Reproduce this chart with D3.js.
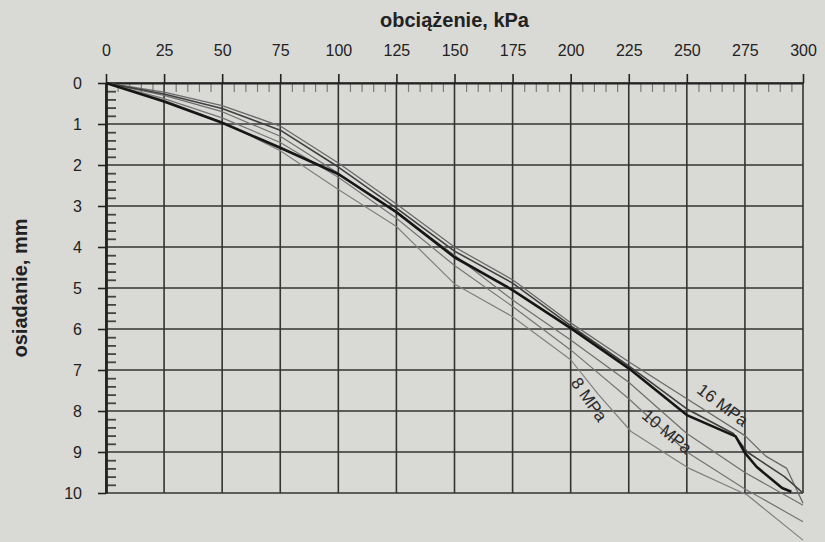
<!DOCTYPE html>
<html>
<head>
<meta charset="utf-8">
<script src="https://cdn.jsdelivr.net/npm/d3@7"></script>
<style>
  body { margin: 0; background: #d9d9d6; }
  svg { display: block; font-family: "Liberation Sans", Arial, sans-serif; }
  .tick text { font-size: 16px; fill: #222; }
</style>
</head>
<body>
<svg id="chart" width="825" height="542"></svg>
<script>
// load (kPa) on top, settlement (mm) downwards
var xTicks = [0, 25, 50, 75, 100, 125, 150, 175, 200, 225, 250, 275, 300];
var yTicks = [0, 1, 2, 3, 4, 5, 6, 7, 8, 9, 10];

// each point: [load kPa, settlement mm]
var pomiar = [[0,0],[25,0.45],[50,0.97],[75,1.58],[100,2.22],[125,3.15],[150,4.25],[175,5.05],
  [200,5.98],[225,6.96],[250,8.1],[271,8.62],[275,9.02],[280,9.36],[291,9.88],[295,9.97]];
var upperA = [[0,0],[25,0.27],[50,0.62],[75,1.15],[100,2.05],[125,3.05],[150,4.1],[175,4.88],
  [200,5.92],[225,6.9],[250,7.95],[270,8.55],[276,9.0],[284,9.3],[292,9.6],[300,10.0]];
var mpa16 = [[0,0],[25,0.22],[50,0.55],[75,1.05],[100,1.95],[125,2.95],[150,4.0],[175,4.8],
  [200,5.85],[225,6.8],[250,7.7],[275,8.6],[284,9.1],[293,9.4],[300,10.25]];
var lowerA = [[0,0],[25,0.3],[50,0.7],[75,1.3],[100,2.2],[125,3.15],[150,4.2],[175,5.29],
  [200,6.27],[225,7.3],[250,8.55],[275,9.5],[300,10.3]];
var mpa10 = [[0,0],[25,0.38],[50,0.85],[75,1.45],[100,2.3],[125,3.3],[150,4.45],[175,5.45],
  [200,6.51],[225,7.7],[250,9.0],[275,9.9],[300,10.7]];
var mpa8 = [[0,0],[25,0.42],[50,0.95],[75,1.65],[100,2.6],[125,3.5],[150,4.9],[175,5.7],
  [200,6.75],[212,7.6],[226,8.5],[251,9.4],[276,10.05],[300,11.15]];

var curveLabels = ["8 MPa", "10 MPa", "16 MPa"];
var labelAt = [[208, 7.72], [241.5, 8.5], [265.5, 7.85]];
var labelAngle = [55, 40, 37];

var svg = d3.select("#chart");
var x = d3.scaleLinear().domain([0, 300]).range([106, 803]);
var y = d3.scaleLinear().domain([0, 10]).range([83, 493]);

// grid
svg.append("g").selectAll("line").data(xTicks).enter().append("line")
  .attr("x1", function(d){ return x(d); }).attr("x2", function(d){ return x(d); })
  .attr("y1", y(0)).attr("y2", y(10))
  .attr("stroke", "#333").attr("stroke-width", 1.6);
svg.append("g").selectAll("line").data(yTicks).enter().append("line")
  .attr("y1", function(d){ return y(d); }).attr("y2", function(d){ return y(d); })
  .attr("x1", x(0)).attr("x2", x(300))
  .attr("stroke", "#333").attr("stroke-width", 1.6);

// minor ticks inside the frame
var xMinor = d3.range(0, 300, 5).filter(function(d){ return d % 25 !== 0; });
var yMinor = d3.range(0, 50).map(function(i){ return i / 5; })
  .filter(function(d){ return Math.round(d * 5) % 5 !== 0; });
var topMinor = svg.append("g").attr("transform", "translate(0," + y(0) + ")")
  .call(d3.axisBottom(x).tickValues(xMinor).tickSize(9).tickFormat(""));
topMinor.select(".domain").remove();
topMinor.selectAll("line").attr("stroke", "#7a7a7a").attr("stroke-width", 1.2);
var leftMinor = svg.append("g").attr("transform", "translate(" + x(0) + ",0)")
  .call(d3.axisRight(y).tickValues(yMinor).tickSize(10).tickFormat(""));
leftMinor.select(".domain").remove();
leftMinor.selectAll("line").attr("stroke", "#444").attr("stroke-width", 1.8);

// main axes
var topAxis = svg.append("g").attr("transform", "translate(0," + y(0) + ")")
  .call(d3.axisTop(x).tickValues(xTicks).tickSize(9).tickPadding(18).tickSizeOuter(0));
topAxis.select(".domain").attr("stroke", "#222").attr("stroke-width", 2.2);
topAxis.selectAll(".tick line").attr("stroke", "#222").attr("stroke-width", 1.6);
var leftAxis = svg.append("g").attr("transform", "translate(" + x(0) + ",0)")
  .call(d3.axisLeft(y).tickValues(yTicks).tickSize(8).tickPadding(16).tickSizeOuter(0));
leftAxis.select(".domain").attr("stroke", "#222").attr("stroke-width", 2.8);
leftAxis.selectAll(".tick line").attr("stroke", "#222").attr("stroke-width", 1.6);
svg.selectAll(".tick text").attr("font-family", null).attr("font-size", null);

// curves, lightest first
var line = d3.line().x(function(d){ return x(d[0]); }).y(function(d){ return y(d[1]); });
var series = [
  {d: mpa8,   c: "#808080", w: 1.2},
  {d: mpa10,  c: "#747474", w: 1.2},
  {d: lowerA, c: "#6e6e6e", w: 1.2},
  {d: mpa16,  c: "#6a6a6a", w: 1.3},
  {d: upperA, c: "#404040", w: 1.6},
  {d: pomiar, c: "#161616", w: 2.6}
];
svg.append("g").selectAll("path").data(series).enter().append("path")
  .attr("d", function(s){ return line(s.d); })
  .attr("fill", "none")
  .attr("stroke", function(s){ return s.c; })
  .attr("stroke-width", function(s){ return s.w; })
  .attr("stroke-linejoin", "round");

svg.append("g").selectAll("text").data(curveLabels).enter().append("text")
  .attr("transform", function(d, i){
    return "translate(" + x(labelAt[i][0]) + "," + y(labelAt[i][1]) + ") rotate(" + labelAngle[i] + ")";
  })
  .attr("text-anchor", "middle").attr("dy", "0.35em")
  .attr("font-size", 17).attr("fill", "#2a2a2a")
  .text(function(d){ return d; });

// axis titles
svg.append("text")
  .attr("x", (x(0) + x(300)) / 2).attr("y", 27)
  .attr("text-anchor", "middle")
  .attr("font-size", 20).attr("font-weight", "bold").attr("fill", "#222")
  .text("obciążenie, kPa");
svg.append("text")
  .attr("transform", "translate(27," + (y(0) + y(10)) / 2 + ") rotate(-90)")
  .attr("text-anchor", "middle")
  .attr("font-size", 20).attr("font-weight", "bold").attr("fill", "#222")
  .text("osiadanie, mm");
</script>
</body>
</html>
